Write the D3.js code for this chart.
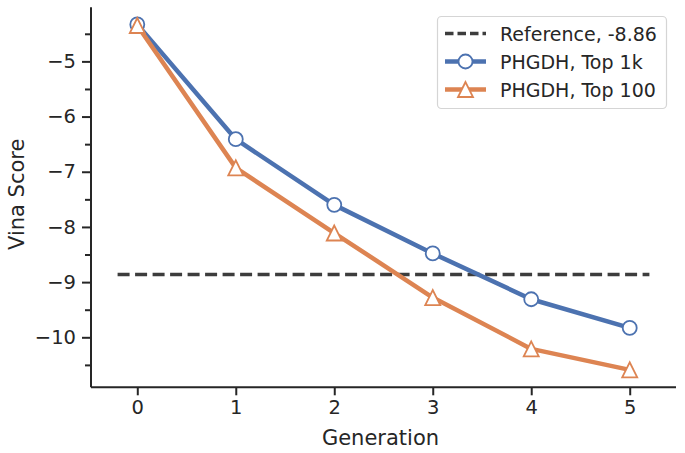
<!DOCTYPE html>
<html><head><meta charset="utf-8">
<script src="https://cdn.jsdelivr.net/npm/d3@7"></script>
<style>body{margin:0;background:#fff}text{font-family:"DejaVu Sans",sans-serif;fill:#262626}</style>
</head><body>
<svg id="c" width="685" height="453"></svg>
<script>
const generations = [0, 1, 2, 3, 4, 5];
const top1k = [-4.33, -6.41, -7.60, -8.48, -9.31, -9.83];
const top100 = [-4.35, -6.93, -8.11, -9.28, -10.21, -10.59];
const referenceValue = -8.86;
const yTicks = [-5, -6, -7, -8, -9, -10];
const yMinorTicks = [-4.5, -5.5, -6.5, -7.5, -8.5, -9.5, -10.5];
const legendLabels = ["Reference, -8.86", "PHGDH, Top 1k", "PHGDH, Top 100"];

const svg = d3.select("#c");
const L = 91, R = 676, T = 7.3, B = 387.3;
const x = d3.scaleLinear().domain([-0.47, 5.47]).range([L, R]);
const y = d3.scaleLinear().domain([-10.906, -4.02]).range([B, T]);
const blue = "#4c72b0", orange = "#dd8452", ink = "#262626";

// axes
const xAxis = d3.axisBottom(x).tickValues(generations).tickSize(8).tickPadding(5).tickFormat(d3.format("d"));
const gx = svg.append("g").attr("transform", `translate(0,${B})`).call(xAxis);
gx.select(".domain").attr("d", `M${L},0H${R}`);
const yAxis = d3.axisLeft(y).tickValues(yTicks).tickSize(9).tickPadding(6).tickFormat(d => "\u2212" + Math.abs(d));
const gy = svg.append("g").attr("transform", `translate(${L},0)`).call(yAxis);
gy.select(".domain").attr("d", `M0,${T}V${B}`);
const gym = svg.append("g").attr("transform", `translate(${L},0)`).call(d3.axisLeft(y).tickValues(yMinorTicks).tickSize(6).tickFormat(""));
gym.select(".domain").remove();
[gx, gy, gym].forEach(g => {
  g.selectAll(".domain").attr("stroke", ink).attr("stroke-width", 2);
  g.selectAll(".tick line").attr("stroke", ink).attr("stroke-width", 2);
  g.selectAll(".tick text").style("font-size", "19.5px").attr("fill", ink);
});

// axis labels
svg.append("text").attr("x", (L + R) / 2 - 3).attr("y", 445).attr("text-anchor", "middle").style("font-size", "21px").text("Generation");
svg.append("text").attr("transform", `translate(24,${(T + B) / 2 - 3}) rotate(-90)`).attr("text-anchor", "middle").style("font-size", "21px").text("Vina Score");

// reference line
svg.append("line").attr("x1", x(-0.2)).attr("x2", x(5.2)).attr("y1", y(referenceValue)).attr("y2", y(referenceValue))
  .attr("stroke", "#3d3d3d").attr("stroke-width", 3.5).attr("stroke-dasharray", "12,5.5");

const line = d3.line().x((d, i) => x(generations[i])).y(d => y(d));
function tri(cx, cy, r) {
  return `M${cx},${cy - r}L${cx - r},${cy + r}L${cx + r},${cy + r}Z`;
}
svg.append("path").datum(top1k).attr("d", line).attr("fill", "none").attr("stroke", blue).attr("stroke-width", 4.5).attr("stroke-linejoin", "round");
svg.append("path").datum(top100).attr("d", line).attr("fill", "none").attr("stroke", orange).attr("stroke-width", 4.5).attr("stroke-linejoin", "round");
svg.selectAll(".m1").data(top1k).enter().append("circle").attr("cx", (d, i) => x(generations[i])).attr("cy", d => y(d)).attr("r", 7)
  .attr("fill", "#fff").attr("stroke", blue).attr("stroke-width", 1.8);
svg.selectAll(".m2").data(top100).enter().append("path").attr("d", (d, i) => tri(x(generations[i]), y(d), 7.5))
  .attr("fill", "#fff").attr("stroke", orange).attr("stroke-width", 1.8);

// legend
const lg = svg.append("g");
lg.append("rect").attr("x", 437.5).attr("y", 16.5).attr("width", 229).attr("height", 92).attr("rx", 4)
  .attr("fill", "#fff").attr("fill-opacity", 0.85).attr("stroke", "#d5d5d5").attr("stroke-width", 1.2);
const rows = [33.5, 61.5, 89.5];
lg.append("line").attr("x1", 445).attr("x2", 486).attr("y1", rows[0]).attr("y2", rows[0]).attr("stroke", "#3d3d3d").attr("stroke-width", 3.5).attr("stroke-dasharray", "8.5,4");
lg.append("line").attr("x1", 445).attr("x2", 486).attr("y1", rows[1]).attr("y2", rows[1]).attr("stroke", blue).attr("stroke-width", 4.5);
lg.append("circle").attr("cx", 465.5).attr("cy", rows[1]).attr("r", 7).attr("fill", "#fff").attr("stroke", blue).attr("stroke-width", 1.8);
lg.append("line").attr("x1", 445).attr("x2", 486).attr("y1", rows[2]).attr("y2", rows[2]).attr("stroke", orange).attr("stroke-width", 4.5);
lg.append("path").attr("d", tri(465.5, rows[2], 7.5)).attr("fill", "#fff").attr("stroke", orange).attr("stroke-width", 1.8);
legendLabels.forEach((t, i) => {
  lg.append("text").attr("x", 500).attr("y", rows[i] + 7).style("font-size", "19px").text(t);
});
</script>
</body></html>
